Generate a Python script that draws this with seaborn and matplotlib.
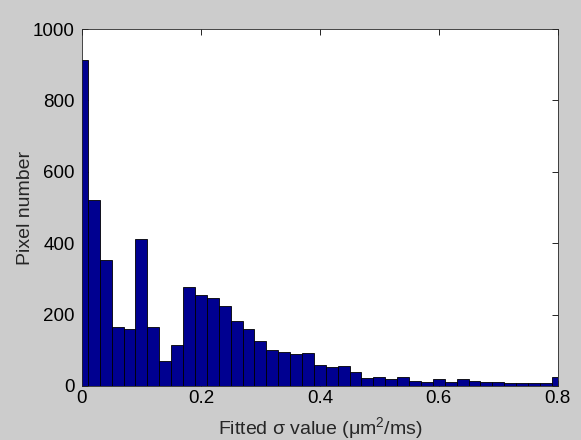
import numpy as np
import pandas as pd
import seaborn as sns
import matplotlib.pyplot as plt

# bin centres (hist with 41 bins, 0:0.02:0.8) and counts
centers = np.round(np.arange(0, 0.81, 0.02), 2)
counts = [913, 521, 353, 164, 160, 413, 164, 71, 114, 278,
          254, 246, 224, 183, 159, 127, 100, 94, 90, 92,
          59, 54, 57, 40, 21, 26, 19, 26, 15, 12,
          19, 10, 19, 15, 12, 10, 7, 7, 7, 7, 26]

data = pd.DataFrame({'sigma': centers, 'n': counts})

sns.set_style('ticks')
plt.rcParams['font.family'] = ['Liberation Sans', 'DejaVu Sans']
plt.rcParams['mathtext.default'] = 'regular'

fig = plt.figure(figsize=(5.81, 4.4), dpi=100, facecolor='#cccccc')
ax = fig.add_axes([0.141, 0.123, 0.819, 0.811])
sns.histplot(
    data=data,
    x='sigma',
    weights='n',
    binwidth=0.02,
    binrange=(-0.01, 0.81),
    color='#000090',
    edgecolor='black',
    linewidth=0.6,
    alpha=1,
    ax=ax
)

ax.set_xlim(0, 0.8)
ax.set_ylim(0, 1000)
ax.set_xticks([0, 0.2, 0.4, 0.6, 0.8])
ax.set_xticklabels(['0', '0.2', '0.4', '0.6', '0.8'])
ax.set_yticks([0, 200, 400, 600, 800, 1000])
ax.tick_params(direction='in', top=True, right=True, labelsize=13.5,
               length=4, width=0.6, colors='black')
ax.tick_params(axis='x', pad=3)
ax.tick_params(axis='y', pad=5)
for s in ax.spines.values():
    s.set_visible(True)
    s.set_linewidth(0.6)
ax.set_xlabel('Fitted σ value (μm$^{2}$/ms)', fontsize=14, labelpad=6)
ax.set_ylabel('Pixel number', fontsize=14, labelpad=-1)

plt.savefig('out.png', dpi=100, facecolor=fig.get_facecolor())
